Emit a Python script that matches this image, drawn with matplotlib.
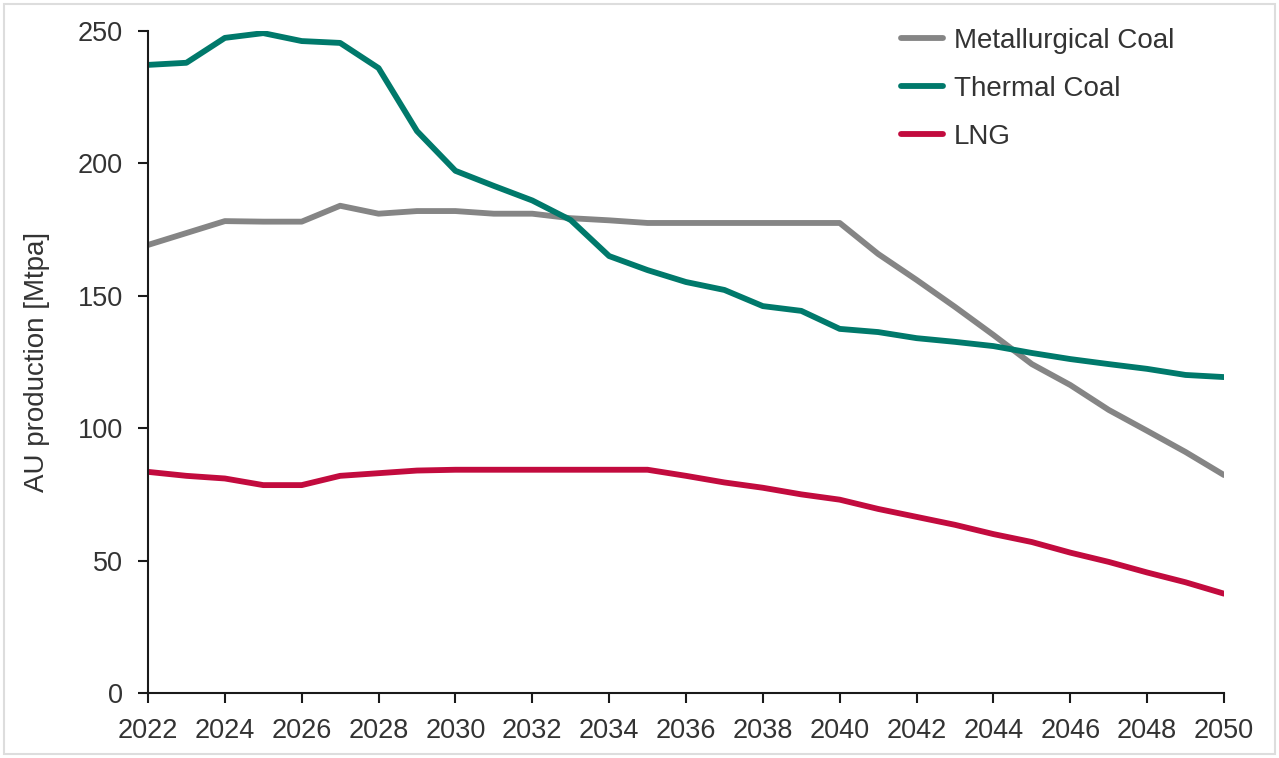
import matplotlib
matplotlib.use("Agg")
import matplotlib.pyplot as plt
from matplotlib.patches import Rectangle

plt.rcParams['font.family'] = ['Liberation Sans', 'DejaVu Sans']

years = list(range(2022, 2051))
metallurgical = [169.2, 173.7, 178.2, 178, 178, 184, 181, 182, 182, 181, 181, 179.3, 178.5,
                 177.5, 177.5, 177.5, 177.5, 177.5, 177.5, 165.8, 156, 145.8, 135.2, 124.2,
                 116.3, 106.9, 99, 91, 82.3]
thermal = [237.2, 238, 247.4, 249.2, 246.2, 245.5, 236, 212.2, 197.2, 191.5, 186, 178.6, 165,
           159.7, 155.2, 152.2, 146.1, 144.3, 137.5, 136.3, 134, 132.6, 131, 128.4, 126.1,
           124.2, 122.4, 120.1, 119.3]
lng = [83.5, 82, 81, 78.5, 78.5, 82, 83, 84, 84.3, 84.3, 84.3, 84.3, 84.3, 84.3, 82, 79.5,
       77.5, 75, 73, 69.5, 66.5, 63.5, 60, 57, 53, 49.5, 45.5, 41.8, 37.5]
series_names = ["Metallurgical Coal", "Thermal Coal", "LNG"]
xticks = list(range(2022, 2051, 2))
yticks = [0, 50, 100, 150, 200, 250]

fig = plt.figure(figsize=(12.79, 7.58), dpi=100)
ax = fig.add_axes([0.1157, 0.0858, 0.8413, 0.8733])

colors = ["#858585", "#00796B", "#C20B3E"]
for vals, name, c in zip([metallurgical, thermal, lng], series_names, colors):
    ax.plot(years, vals, color=c, lw=4.2, label=name, solid_capstyle='round', solid_joinstyle='round')

ax.set_xlim(2022, 2050)
ax.set_ylim(0, 250)
ax.set_xticks(xticks)
ax.set_yticks(yticks)
ax.tick_params(axis='both', direction='out', length=7, width=1.5, color='#1a1a1a',
               labelsize=19.5, labelcolor='#333333')
ax.tick_params(axis='x', pad=11)
ax.tick_params(axis='y', pad=11)
for s in ['top', 'right']:
    ax.spines[s].set_visible(False)
for s in ['left', 'bottom']:
    ax.spines[s].set_linewidth(1.5)
    ax.spines[s].set_color('#1a1a1a')
ax.set_ylabel("AU production [Mtpa]", fontsize=20, color='#333333', labelpad=20)

leg = ax.legend(loc='upper left', bbox_to_anchor=(0.677, 1.042), frameon=False, fontsize=20,
                handlelength=1.5, handletextpad=0.4, labelspacing=0.78)
for t in leg.get_texts():
    t.set_color('#333333')

fig.patches.append(Rectangle((4/1279, 4/758), 1 - 8/1279, 1 - 8/758, transform=fig.transFigure,
                             fill=False, edgecolor='#dddddd', lw=1.5))

fig.savefig("out.png", dpi=100)
